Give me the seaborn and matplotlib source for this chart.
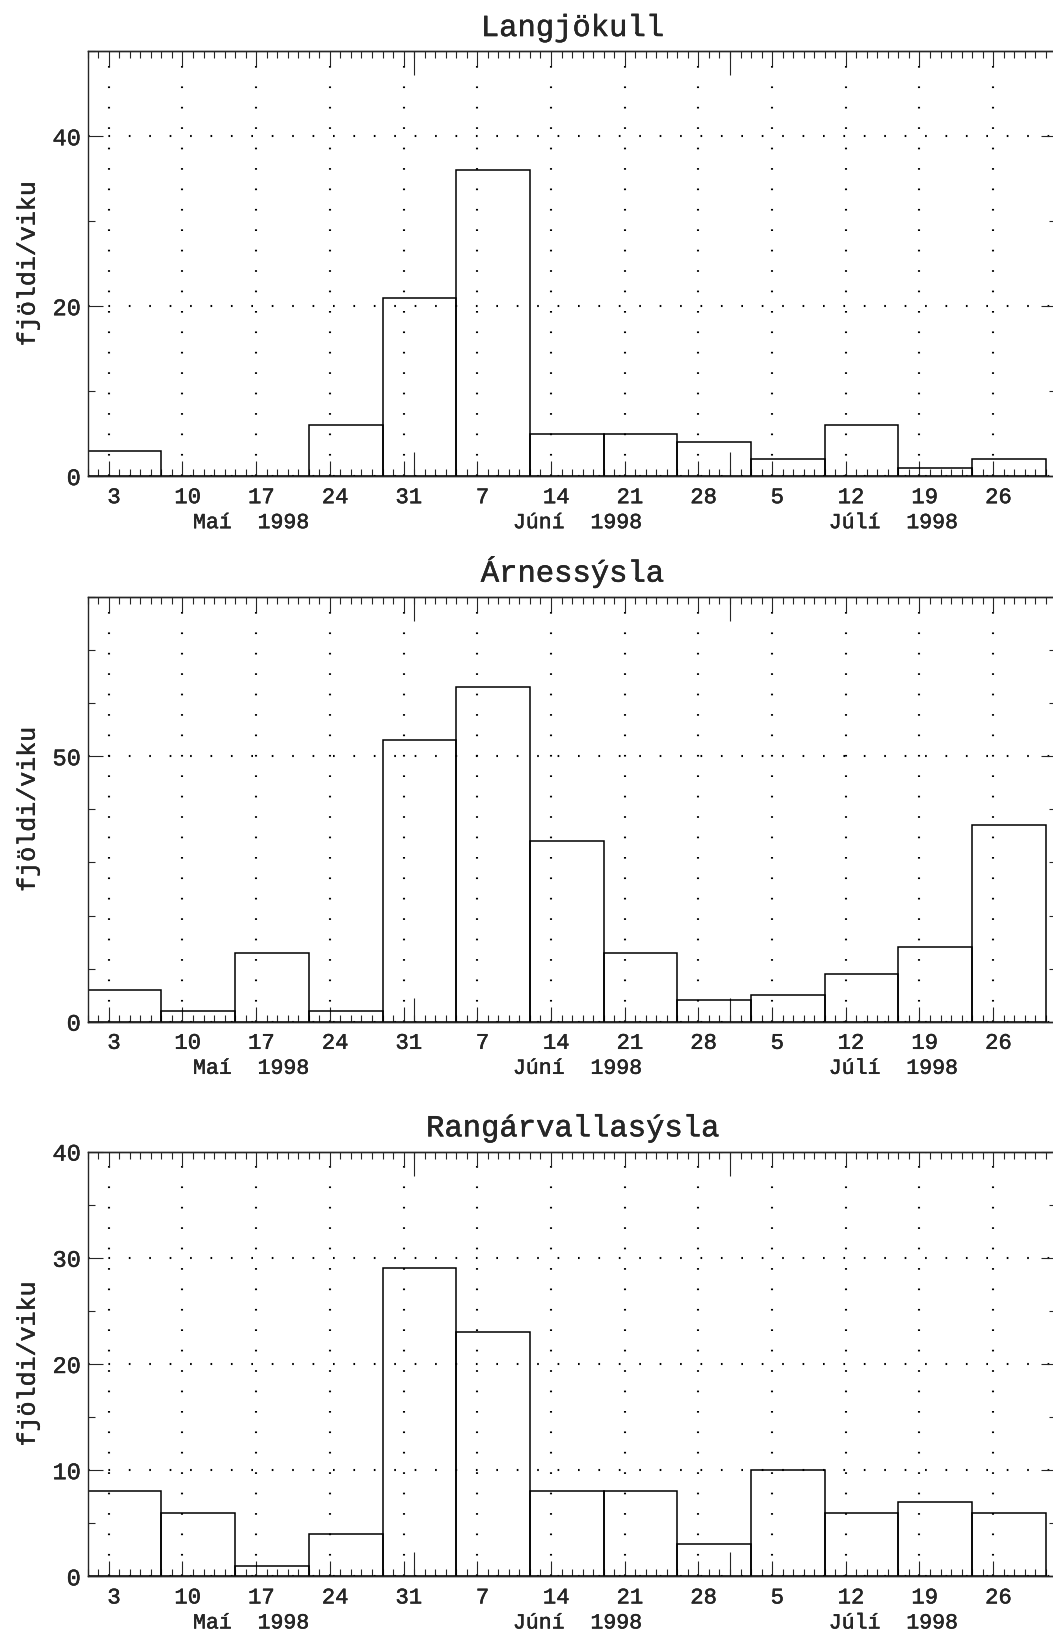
# Vikulegur fjöldi, maí-júlí 1998 (þrjú svæði)
import numpy as np
import pandas as pd
import matplotlib
matplotlib.use("Agg")
import matplotlib.pyplot as plt
import matplotlib.patheffects as pe
from matplotlib.ticker import MultipleLocator
import seaborn as sns

# 1) Gögn: upphaf hverrar viku og fjöldi í viku
week_starts = ["1998-05-01", "1998-05-08", "1998-05-15", "1998-05-22", "1998-05-29",
               "1998-06-05", "1998-06-12", "1998-06-19", "1998-06-26", "1998-07-03",
               "1998-07-10", "1998-07-17", "1998-07-24"]
period_end = "1998-07-31"

langjokull = [3, 0, 0, 6, 21, 36, 5, 5, 4, 2, 6, 1, 2]
arnessysla = [6, 2, 13, 2, 53, 63, 34, 13, 4, 5, 9, 14, 37]
rangarvallasysla = [8, 6, 1, 4, 29, 23, 8, 8, 3, 10, 6, 7, 6]

titles = ["Langjökull", "Árnessýsla", "Rangárvallasýsla"]

# ásar
axis_start = "1998-05-01"
axis_end = "1998-08-01"
tick_days = ["1998-05-03", "1998-05-10", "1998-05-17", "1998-05-24", "1998-05-31",
             "1998-06-07", "1998-06-14", "1998-06-21", "1998-06-28", "1998-07-05",
             "1998-07-12", "1998-07-19", "1998-07-26"]
tick_labels = ["3", "10", "17", "24", "31", "7", "14", "21", "28", "5", "12", "19", "26"]
month_starts = ["1998-06-01", "1998-07-01"]
month_mids = ["1998-05-16", "1998-06-16", "1998-07-16"]
month_labels = ["Maí  1998", "Júní  1998", "Júlí  1998"]

ymax = [50, 80, 40]
ymajor = [20, 50, 10]
yminor = [10, 10, 5]


def day(d):
    # dagur talinn frá 30. apríl (1. maí = 1)
    return (pd.to_datetime(d) - pd.Timestamp("1998-04-30")).days


x0, x1 = day(axis_start), day(axis_end)
edges = list(day(week_starts)) + [day(period_end)]

sns.set_style("ticks")
plt.rcParams["font.family"] = ["Liberation Mono", "DejaVu Sans"]

fig = plt.figure(figsize=(10.53, 16.40), dpi=100)
bottoms = [0.7091, 0.3764, 0.0382]
series = [langjokull, arnessysla, rangarvallasysla]
dots = (0, (0.8, 9))
thick = [pe.withStroke(linewidth=0.3, foreground="black")]

for i in range(3):
    ax = fig.add_axes([0.0833, bottoms[i], 0.9199, 0.259])
    df = pd.DataFrame({"dagur": day(week_starts), "fjoldi": series[i]})
    sns.histplot(data=df, x="dagur", weights="fjoldi", bins=edges, fill=False,
                 color="black", linewidth=1.1, ax=ax)

    ax.set_xlim(x0, x1)
    ax.set_ylim(0, ymax[i])

    # x: vikur (major), dagar (minor)
    ax.set_xticks(day(tick_days))
    ax.set_xticklabels([])
    ax.xaxis.set_minor_locator(MultipleLocator(1))
    ax.tick_params(axis="x", which="major", direction="in", length=11, width=0.8,
                   top=True, bottom=True)
    ax.tick_params(axis="x", which="minor", direction="in", length=5, width=0.8,
                   top=True, bottom=True)

    # y
    ax.yaxis.set_major_locator(MultipleLocator(ymajor[i]))
    ax.yaxis.set_minor_locator(MultipleLocator(yminor[i]))
    ax.tick_params(axis="y", which="major", direction="in", length=11, width=0.8,
                   left=True, right=True, labelsize=17, pad=5)
    ax.tick_params(axis="y", which="minor", direction="in", length=5, width=0.8,
                   left=True, right=True)
    for t in ax.get_yticklabels():
        t.set_path_effects(thick)

    ax.grid(True, which="major", color="black", linestyle=dots, linewidth=1.5)

    for s in ax.spines.values():
        s.set_linewidth(1.0)

    # mánaðaskil og dagsetningar
    sec_b = ax.secondary_xaxis("bottom")
    sec_b.set_xticks(day(month_starts))
    sec_b.set_xticklabels([])
    sec_b.set_xticks(day(tick_days) + 0.5, labels=tick_labels, minor=True)
    sec_b.tick_params(which="major", direction="in", length=17, width=0.8)
    sec_b.tick_params(which="minor", length=0, labelsize=16, pad=8)
    sec_b.spines["bottom"].set_linewidth(1.0)
    for t in sec_b.get_xticklabels(minor=True):
        t.set_path_effects(thick)

    sec_t = ax.secondary_xaxis("top")
    sec_t.set_xticks(day(month_starts))
    sec_t.set_xticklabels([])
    sec_t.tick_params(which="major", direction="in", length=17, width=0.8)
    sec_t.spines["top"].set_linewidth(1.0)

    for m, lab in zip(month_mids, month_labels):
        ax.annotate(lab, xy=(day(m) + 0.5, 0), xycoords=("data", "axes fraction"),
                    xytext=(0, -26), textcoords="offset points",
                    ha="center", va="top", fontsize=15.5, path_effects=thick)

    ax.set_xlabel("")
    ax.set_ylabel("fjöldi/viku", fontsize=18, va="center", path_effects=thick)
    ax.yaxis.set_label_coords(-0.062, 0.5)
    ax.set_title(titles[i], fontsize=22, pad=11, path_effects=thick)

plt.savefig("out.png", dpi=100)
